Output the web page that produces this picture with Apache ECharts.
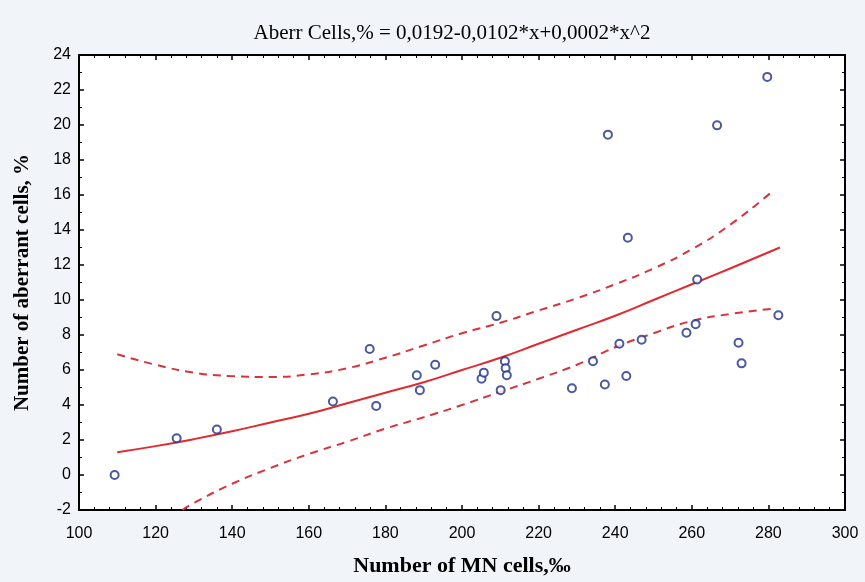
<!DOCTYPE html>
<html>
<head>
<meta charset="utf-8">
<script src="https://cdn.jsdelivr.net/npm/echarts@6/dist/echarts.min.js"></script>
<style>
    html, body { margin: 0; padding: 0; background: #f1f4f9; }
    #main { width: 865px; height: 582px; }
</style>
</head>
<body>
<div id="main"></div>
<script type="text/javascript">
    // observed points (MN cells, aberrant cells %)
    var mnCells = [109.3, 125.5, 136, 166.3, 175.9, 177.6, 188.2, 189, 193,
        209, 205.1, 205.7, 211.2, 211.4, 211.7, 210.1, 228.7, 234.2, 237.3,
        241.1, 242.9, 246.9, 258.6, 261, 261.4, 272.2, 273, 282.6,
        279.7, 266.6, 238.1, 243.3];
    var aberrCells = [0, 2.1, 2.6, 4.2, 7.2, 3.95, 5.7, 4.85, 6.3,
        9.08, 5.5, 5.85, 6.5, 6.1, 5.7, 4.85, 4.96, 6.5, 5.17,
        7.5, 5.66, 7.73, 8.13, 8.62, 11.17, 7.56, 6.38, 9.13,
        22.75, 19.98, 19.45, 13.56];

    // fitted line
    var fitX = [110, 120, 130, 140, 150, 160, 170, 180, 190, 200, 210, 220, 230, 240, 250, 260, 270, 283];
    var fitY = [1.3, 1.65, 2.05, 2.5, 3.0, 3.5, 4.1, 4.7, 5.3, 6.0, 6.7, 7.5, 8.3, 9.1, 10.0, 10.9, 11.8, 13.0];

    // confidence bands
    var upperX = [110, 120, 130, 140, 150, 160, 170, 180, 190, 200, 210, 220, 230, 240, 250, 260, 270, 281];
    var upperY = [6.9, 6.3, 5.85, 5.65, 5.6, 5.75, 6.1, 6.7, 7.4, 8.1, 8.7, 9.4, 10.1, 10.9, 11.8, 12.9, 14.3, 16.2];
    var lowerX = [127, 130, 140, 150, 160, 170, 180, 190, 200, 210, 220, 230, 240, 250, 260, 270, 281];
    var lowerY = [-2, -1.6, -0.5, 0.4, 1.2, 1.9, 2.65, 3.3, 4.0, 4.75, 5.5, 6.3, 7.3, 8.1, 8.8, 9.2, 9.5];

    var xTicks = [100, 120, 140, 160, 180, 200, 220, 240, 260, 280, 300];
    var yTicks = [-2, 0, 2, 4, 6, 8, 10, 12, 14, 16, 18, 20, 22, 24];

    function pairs(xs, ys) {
        return xs.map(function (x, i) { return [x, ys[i]]; });
    }

    var myChart = echarts.init(document.getElementById('main'));

    var lineStyle = { show: true, onZero: false, lineStyle: { color: '#000', width: 2 } };
    var tickStyle = { show: true, inside: true, length: 5, lineStyle: { color: '#000', width: 1.5 } };
    var minorStyle = { show: true, length: 3, lineStyle: { color: '#000', width: 1 } };

    var option = {
        backgroundColor: '#f1f4f9',
        animation: false,
        title: {
            text: 'Aberr Cells,% = 0,0192-0,0102*x+0,0002*x^2',
            left: 447,
            textAlign: 'center',
            top: 18,
            textStyle: { fontFamily: 'Liberation Serif', fontWeight: 'normal', fontSize: 21, color: '#000' }
        },
        grid: {
            left: 79, right: 20, top: 55, bottom: 71,
            show: true,
            backgroundColor: '#ffffff',
            borderColor: '#000',
            borderWidth: 2
        },
        xAxis: [{
            type: 'value',
            min: xTicks[0], max: xTicks[xTicks.length - 1], interval: 20,
            axisLine: lineStyle,
            axisTick: tickStyle,
            minorTick: Object.assign({ splitNumber: 5 }, minorStyle),
            splitLine: { show: false },
            axisLabel: { color: '#000', fontSize: 16, fontFamily: 'Liberation Sans', margin: 16 },
            name: 'Number of MN cells,‰',
            nameLocation: 'middle',
            nameGap: 45,
            nameTextStyle: { fontFamily: 'Liberation Serif', fontWeight: 'bold', fontSize: 22, color: '#000' }
        }, {
            type: 'value', position: 'top',
            min: xTicks[0], max: xTicks[xTicks.length - 1], interval: 20,
            axisLine: lineStyle,
            axisTick: tickStyle,
            minorTick: Object.assign({ splitNumber: 5 }, minorStyle),
            splitLine: { show: false },
            axisLabel: { show: false }
        }],
        yAxis: [{
            type: 'value',
            min: yTicks[0], max: yTicks[yTicks.length - 1], interval: 2,
            axisLine: lineStyle,
            axisTick: tickStyle,
            minorTick: Object.assign({ splitNumber: 2 }, minorStyle),
            splitLine: { show: false },
            axisLabel: { color: '#000', fontSize: 16, fontFamily: 'Liberation Sans', margin: 8 },
            name: 'Number of aberrant cells, %',
            nameLocation: 'middle',
            nameGap: 46,
            nameTextStyle: { fontFamily: 'Liberation Serif', fontWeight: 'bold', fontSize: 21, color: '#000' }
        }, {
            type: 'value', position: 'right',
            min: yTicks[0], max: yTicks[yTicks.length - 1], interval: 2,
            axisLine: lineStyle,
            axisTick: tickStyle,
            minorTick: Object.assign({ splitNumber: 2 }, minorStyle),
            splitLine: { show: false },
            axisLabel: { show: false }
        }],
        series: [{
            type: 'line',
            data: pairs(upperX, upperY),
            smooth: true,
            showSymbol: false,
            lineStyle: { color: '#d9333b', width: 2, type: [8, 6] }
        }, {
            type: 'line',
            data: pairs(lowerX, lowerY),
            smooth: true,
            showSymbol: false,
            lineStyle: { color: '#d9333b', width: 2, type: [8, 6] }
        }, {
            type: 'line',
            data: pairs(fitX, fitY),
            smooth: true,
            showSymbol: false,
            lineStyle: { color: '#e02a2f', width: 2 }
        }, {
            type: 'scatter',
            data: pairs(mnCells, aberrCells),
            symbol: 'circle',
            symbolSize: 8,
            itemStyle: { color: '#ffffff', borderColor: '#1e2f86', borderWidth: 2 },
            z: 5
        }]
    };

    myChart.setOption(option);
</script>
</body>
</html>
